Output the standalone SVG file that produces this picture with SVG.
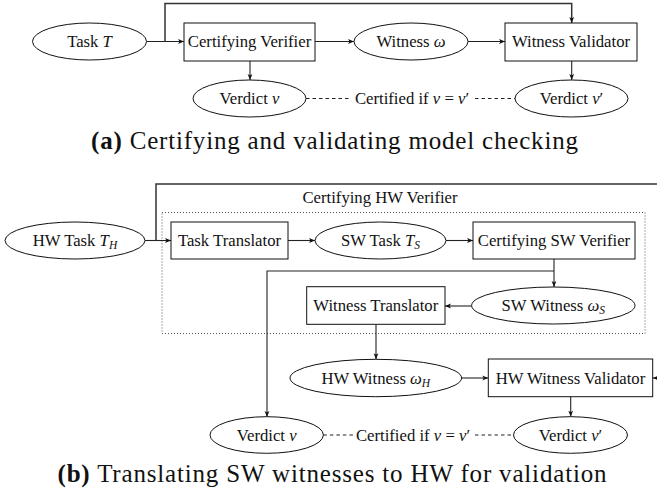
<svg xmlns="http://www.w3.org/2000/svg" width="657" height="493" viewBox="0 0 657 493">
<style>
.n{fill:#fff;stroke:#111;stroke-width:1}
.t{font-family:"Liberation Serif","DejaVu Serif",serif;font-size:16.7px;fill:#111;text-anchor:middle}
.i{font-style:italic}
.c{fill:none;stroke:#222;stroke-width:1.1}
.top{fill:none;stroke:#333;stroke-width:1.5}
.d{fill:none;stroke:#222;stroke-width:1;stroke-dasharray:3.5,3}
.dot{fill:none;stroke:#555;stroke-width:1;stroke-dasharray:1,2}
.cap{font-family:"Liberation Serif","DejaVu Serif",serif;font-size:25px;fill:#111}
</style>
<defs>
<marker id="a" viewBox="0 0 10 10" markerWidth="6" markerHeight="6" refX="10" refY="5" orient="auto" markerUnits="userSpaceOnUse">
<path d="M0,1 L10,5 L0,9 L2.5,5 z" fill="#111"/>
</marker>
</defs>

<!-- (a) -->
<g id="connectors-a">
<path class="c" d="M146.5,41.5 H184" marker-end="url(#a)"/>
<path class="top" d="M165,41.5 V3.5 H571.7 V23" marker-end="url(#a)"/>
<path class="c" d="M315,41.5 H354" marker-end="url(#a)"/>
<path class="c" d="M468,41.5 H505" marker-end="url(#a)"/>
<path class="c" d="M250,61 V80" marker-end="url(#a)"/>
<path class="c" d="M571.7,61 V80" marker-end="url(#a)"/>
<path class="d" d="M306,98.5 H349"/>
<path class="d" d="M475,98.5 H515"/>
<text class="t" x="412" y="104">Certified if <tspan class="i">v</tspan> = <tspan class="i">v</tspan>′</text>
</g>
<g id="task-t"><ellipse class="n" cx="89.5" cy="41.5" rx="57" ry="18.5"/><text class="t" x="89.5" y="47">Task <tspan class="i">T</tspan></text></g>
<g id="certifying-verifier"><rect class="n" x="184" y="23" width="131" height="38"/><text class="t" x="249.5" y="47">Certifying Verifier</text></g>
<g id="witness"><ellipse class="n" cx="411" cy="41.5" rx="57" ry="18.5"/><text class="t" x="411" y="47">Witness <tspan class="i">ω</tspan></text></g>
<g id="witness-validator"><rect class="n" x="505" y="23" width="132" height="38"/><text class="t" x="571" y="47">Witness Validator</text></g>
<g id="verdict-v-a"><ellipse class="n" cx="249.5" cy="98.5" rx="56.5" ry="18.5"/><text class="t" x="249.5" y="104">Verdict <tspan class="i">v</tspan></text></g>
<g id="verdict-v2-a"><ellipse class="n" cx="571.5" cy="98.5" rx="56.5" ry="18.5"/><text class="t" x="571.5" y="104">Verdict <tspan class="i">v</tspan>′</text></g>
<text class="cap" x="91" y="149" textLength="487" lengthAdjust="spacing"><tspan font-weight="bold">(a)</tspan> Certifying and validating model checking</text>

<!-- (b) -->
<g id="certifying-hw-verifier">
<rect class="dot" x="162" y="212.5" width="483" height="121"/>
<text class="t" x="380" y="203">Certifying HW Verifier</text>
</g>
<g id="connectors-b">
<path class="c" d="M145,240.5 H171" marker-end="url(#a)"/>
<path class="top" d="M156,240.5 V184 H657"/>
<path class="c" d="M660,378 H652.7" marker-end="url(#a)"/>
<path class="c" d="M288,240.5 H315" marker-end="url(#a)"/>
<path class="c" d="M446,240.5 H473" marker-end="url(#a)"/>
<path class="c" d="M554,259 V287" marker-end="url(#a)"/>
<path class="c" d="M554,271 H267 V417" marker-end="url(#a)"/>
<path class="c" d="M471.6,306 H445" marker-end="url(#a)"/>
<path class="c" d="M376,324.3 V359.3" marker-end="url(#a)"/>
<path class="c" d="M461.6,378 H488.3" marker-end="url(#a)"/>
<path class="c" d="M570.7,396.7 V416.7" marker-end="url(#a)"/>
<path class="d" d="M323.4,435 H353"/>
<path class="d" d="M475,435 H513.5"/>
<text class="t" x="413" y="440.5">Certified if <tspan class="i">v</tspan> = <tspan class="i">v</tspan>′</text>
</g>
<g id="hw-task"><ellipse class="n" cx="75" cy="240.5" rx="70" ry="18.5"/><text class="t" x="75" y="246">HW Task <tspan class="i">T</tspan><tspan class="i" font-size="11.5" dy="3">H</tspan></text></g>
<g id="task-translator"><rect class="n" x="171" y="222" width="117" height="37"/><text class="t" x="229.5" y="246">Task Translator</text></g>
<g id="sw-task"><ellipse class="n" cx="380.5" cy="240.5" rx="65.5" ry="18.5"/><text class="t" x="380.5" y="246">SW Task <tspan class="i">T</tspan><tspan class="i" font-size="11.5" dy="3">S</tspan></text></g>
<g id="certifying-sw-verifier"><rect class="n" x="473" y="222" width="162" height="37"/><text class="t" x="554" y="246">Certifying SW Verifier</text></g>
<g id="sw-witness"><ellipse class="n" cx="553.3" cy="305.5" rx="81.7" ry="18.5"/><text class="t" x="553.3" y="311">SW Witness <tspan class="i">ω</tspan><tspan class="i" font-size="11.5" dy="3">S</tspan></text></g>
<g id="witness-translator"><rect class="n" x="306.7" y="286.7" width="138.3" height="37.6"/><text class="t" x="375.8" y="311">Witness Translator</text></g>
<g id="hw-witness"><ellipse class="n" cx="375.8" cy="378" rx="85.8" ry="18.7"/><text class="t" x="375.8" y="383.5">HW Witness <tspan class="i">ω</tspan><tspan class="i" font-size="11.5" dy="3">H</tspan></text></g>
<g id="hw-witness-validator"><rect class="n" x="488.3" y="359" width="164.4" height="37.7"/><text class="t" x="570.5" y="383.5">HW Witness Validator</text></g>
<g id="verdict-v-b"><ellipse class="n" cx="266.7" cy="435" rx="56.7" ry="18.3"/><text class="t" x="266.7" y="440.5">Verdict <tspan class="i">v</tspan></text></g>
<g id="verdict-v2-b"><ellipse class="n" cx="570.5" cy="435" rx="57" ry="18.3"/><text class="t" x="570.5" y="440.5">Verdict <tspan class="i">v</tspan>′</text></g>
<text class="cap" x="57.5" y="481.7" textLength="549" lengthAdjust="spacing"><tspan font-weight="bold">(b)</tspan> Translating SW witnesses to HW for validation</text>
</svg>
